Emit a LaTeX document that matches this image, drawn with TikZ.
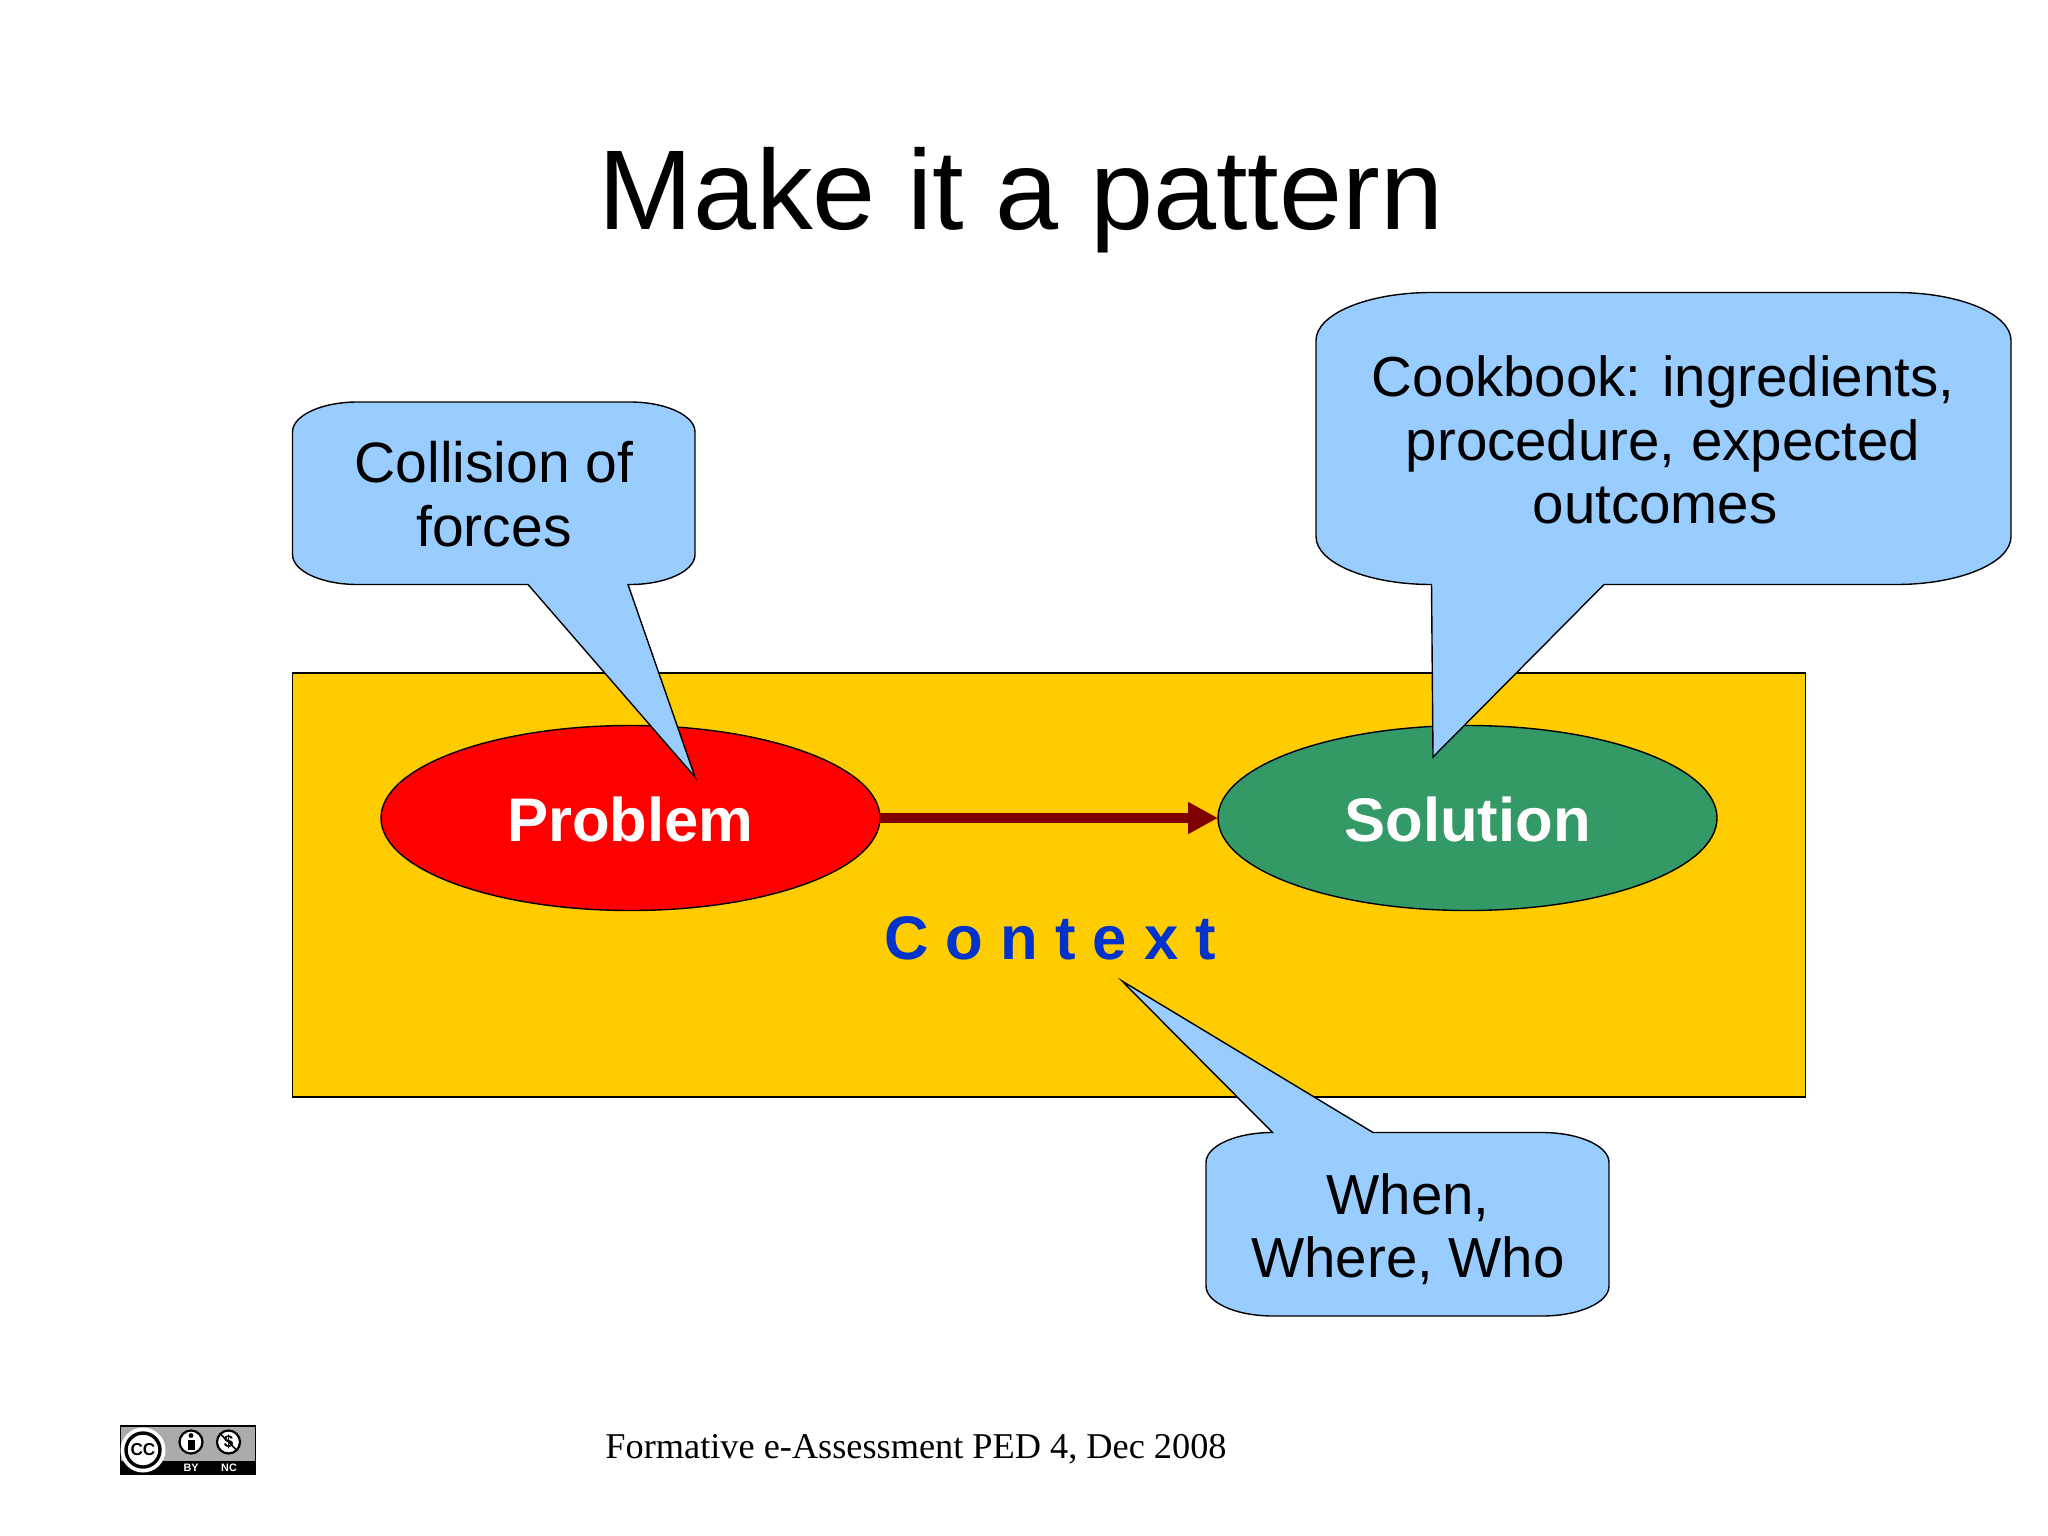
\documentclass[tikz,border=0pt]{standalone}
\usepackage{fontspec}
\setmainfont{Liberation Sans}
\newfontfamily\footfont{Liberation Serif}
\usetikzlibrary{arrows.meta,shapes.geometric}
\definecolor{bubble}{HTML}{99CCFF}
\definecolor{ctx}{HTML}{FFCC00}
\definecolor{ctxtext}{HTML}{0033CC}
\definecolor{sol}{HTML}{339966}
\definecolor{arrowred}{HTML}{800000}
\definecolor{badge}{HTML}{ABABAB}
\tikzset{
  outlined/.style={draw=black,line width=0.7pt},
  bubbleshape/.style={outlined,fill=bubble,line join=miter},
  oval/.style={ellipse,outlined,minimum width=249.5pt,minimum height=92.5pt,inner sep=0pt,outer sep=0pt},
  bubbletext/.style={align=center,font=\fontsize{28.2}{31.8}\selectfont,text=black,inner sep=0pt},
  ovaltext/.style={font=\fontsize{30.8}{34}\selectfont\bfseries,text=white},
  badgetext/.style={font=\fontsize{5.4}{6}\selectfont\bfseries,text=white,inner sep=0pt},
  ring/.style={circle,draw=black,fill=white,line width=1.1pt,minimum size=11.5pt,inner sep=0pt}
}
\begin{document}
\begin{tikzpicture}[x=0.5pt,y=0.5pt]
\useasboundingbox[fill=white] (0,0) rectangle (2048,-1535);

% title
\node[font=\fontsize{56.7}{60}\selectfont,anchor=base,inner sep=0pt] (title) at (1021,-230) {Make it a pattern};

% context rectangle
\node[outlined,fill=ctx,anchor=north west,minimum width=756.5pt,minimum height=212pt,inner sep=0pt,outer sep=0pt] (context) at (292.5,-673) {};

% ovals
\node[oval,fill=red] (problem) at (630.5,-818) {};
\node[oval,fill=sol] (solution) at (1467.5,-818) {};
\node[ovaltext,inner sep=0pt] (problemlabel) at (630.5,-819) {Problem};
\node[ovaltext,inner sep=0pt] (solutionlabel) at (1467.5,-819) {Solution};

% arrow
\draw[arrowred,line width=5pt,-{Triangle[length=15pt,width=15pt]}] (problem.east) -- (solution.west);

% context label
\node[font=\fontsize{30.8}{34}\selectfont\bfseries,text=ctxtext,inner sep=0pt] (contextlabel) at (1050,-938) {C o n t e x t};

% callouts
\draw[bubbleshape] (357.5,-402) -- (630,-402) arc[start angle=90,end angle=0,x radius=65,y radius=30]
  -- (695,-554.5) arc[start angle=0,end angle=-90,x radius=65,y radius=30]
  -- (628,-584.5) -- (695,-777) -- (528,-584.5) -- (357.5,-584.5)
  arc[start angle=-90,end angle=-180,x radius=65,y radius=30]
  -- (292.5,-432) arc[start angle=180,end angle=90,x radius=65,y radius=30] -- cycle;

\draw[bubbleshape] (1431.5,-292.5) -- (1896,-292.5) arc[start angle=90,end angle=0,x radius=115,y radius=48]
  -- (2011,-536.5) arc[start angle=0,end angle=-90,x radius=115,y radius=48]
  -- (1604,-584.5) -- (1433,-757) -- (1431.5,-584.5)
  arc[start angle=-90,end angle=-180,x radius=115.5,y radius=48]
  -- (1316,-340.5) arc[start angle=180,end angle=90,x radius=115.5,y radius=48] -- cycle;

\draw[bubbleshape] (1272.5,-1132.5) -- (1122,-981) -- (1373,-1132.5) -- (1542,-1132.5)
  arc[start angle=90,end angle=0,x radius=67,y radius=30]
  -- (1609,-1286) arc[start angle=0,end angle=-90,x radius=67,y radius=30]
  -- (1273,-1316) arc[start angle=-90,end angle=-180,x radius=67,y radius=30]
  -- (1206,-1162.5) arc[start angle=180,end angle=90,x radius=66.5,y radius=30] -- cycle;

\node[bubbletext,font=\fontsize{28.5}{31.8}\selectfont] (collision) at (494,-494) {Collision of\\forces};
\node[bubbletext] (cookbook) at (1663,-440) {Cookbook: ingredients,\\procedure, expected\\outcomes\kern 8pt};
\node[bubbletext] (when) at (1408,-1229) {When,\\Where, Who};

% footer
\node[font=\fontsize{18.15}{20}\footfont,inner sep=0pt] (footer) at (916,-1449) {Formative e-Assessment PED 4, Dec 2008};

% licence badge
\node[fill=badge,draw=black,line width=0.8pt,anchor=north west,minimum width=67.5pt,minimum height=24pt,inner sep=0pt,outer sep=0pt] (badgebox) at (120.5,-1426) {};
\fill[black] (120.5,-1461) rectangle (256,-1474);
\node[circle,fill=white,minimum size=22.5pt,inner sep=0pt] (ccouter) at (143,-1450) {};
\node[circle,draw=black,fill=white,line width=1.7pt,minimum size=17pt,inner sep=0pt,font=\fontsize{8.6}{9}\selectfont\bfseries] (cc) at (143,-1450) {CC};
\node[ring] (byicon) at (191,-1442) {};
\fill[black] (191,-1435.5) circle[radius=2.4];
\fill[black] (187.5,-1439.5) rectangle (194.5,-1450);
\node[ring,font=\fontsize{8.5}{9}\selectfont\bfseries] (ncicon) at (228.5,-1442) {\$};
\draw[black,line width=0.8pt] (ncicon.north west) -- (ncicon.south east);
\node[badgetext] (bylabel) at (191,-1468) {BY};
\node[badgetext] (nclabel) at (229,-1468) {NC};
\end{tikzpicture}
\end{document}
